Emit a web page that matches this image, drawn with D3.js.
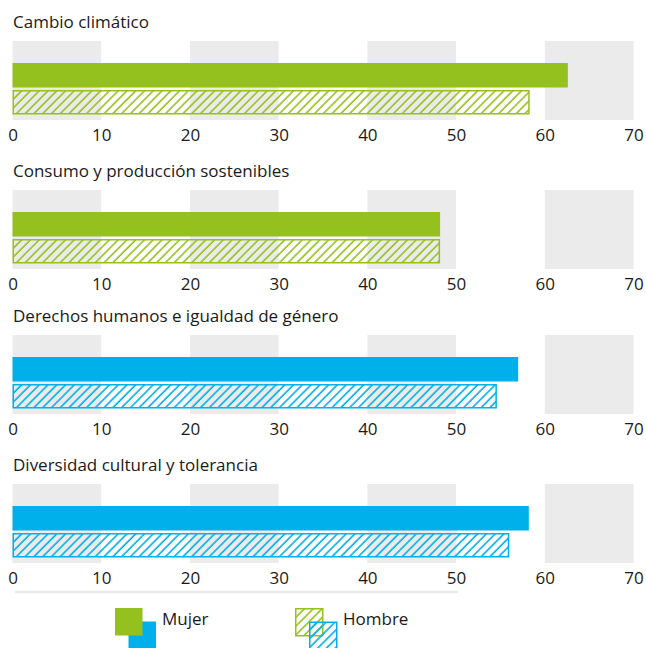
<!DOCTYPE html>
<html>
<head>
<meta charset="utf-8">
<script src="https://cdn.jsdelivr.net/npm/d3@7"></script>
<style>
  body { margin: 0; background: #fff; }
  svg text { font-family: "Open Sans", sans-serif; fill: #1a1a1a; }
</style>
</head>
<body>
<script>
// datos
const temas = ['Cambio climático', 'Consumo y producción sostenibles',
  'Derechos humanos e igualdad de género', 'Diversidad cultural y tolerancia']
const mujer = [62.6, 48.2, 57.0, 58.2]
const hombre = [58.3, 48.2, 54.6, 56.0]
const ticks = [0, 10, 20, 30, 40, 50, 60, 70]
const bandas = [[0, 10], [20, 30], [40, 50], [60, 70]]
const leyenda = ['Mujer', 'Hombre']

const w = 646
const h = 648
const verde = '#95c11f'
const azul = '#00b0ea'
const gris = '#ebebeb'
const panelY = [41, 190, 335, 484] // top of each grey band
const bandH = 79
const fs = 17

const svg = d3.select('body')
  .append('svg')
  .attr('width', w)
  .attr('height', h)

const defs = svg.append('defs')
const hatch = (id, color) => {
  const p = defs.append('pattern')
    .attr('id', id)
    .attr('patternUnits', 'userSpaceOnUse')
    .attr('width', 6.2)
    .attr('height', 6.2)
    .attr('patternTransform', 'rotate(45)')
  p.append('line')
    .attr('x1', 1).attr('y1', 0)
    .attr('x2', 1).attr('y2', 6.2)
    .attr('stroke', color)
    .attr('stroke-width', 1.6)
}
hatch('hv', verde)
hatch('ha', azul)

const xScale = d3.scaleLinear()
  .domain([0, 70])
  .range([12.5, 633.5])

temas.forEach((t, i) => {
  const g = svg.append('g').attr('transform', `translate(0,${panelY[i]})`)
  const color = i < 2 ? verde : azul

  g.selectAll('rect.banda')
    .data(bandas)
    .enter()
    .append('rect')
    .attr('class', 'banda')
    .attr('fill', gris)
    .attr('x', d => xScale(d[0]))
    .attr('width', d => xScale(d[1]) - xScale(d[0]))
    .attr('y', 0)
    .attr('height', bandH)

  g.append('text')
    .attr('x', 13)
    .attr('y', -13)
    .attr('font-size', fs)
    .text(t)

  // Mujer
  g.append('rect')
    .attr('fill', color)
    .attr('x', xScale(0))
    .attr('y', 22)
    .attr('width', xScale(mujer[i]) - xScale(0))
    .attr('height', 24.5)

  // Hombre
  g.append('rect')
    .attr('fill', `url(#${i < 2 ? 'hv' : 'ha'})`)
    .attr('stroke', color)
    .attr('stroke-width', 1.5)
    .attr('x', xScale(0) + 0.75)
    .attr('y', 49.75)
    .attr('width', xScale(hombre[i]) - xScale(0) - 1.5)
    .attr('height', 23)

  const axis = d3.axisBottom(xScale)
    .tickValues(ticks)
    .tickSize(0)
    .tickPadding(0)
  const ax = g.append('g')
    .attr('transform', `translate(0,${bandH + 7})`)
    .call(axis)
  ax.select('.domain').remove()
  ax.selectAll('text')
    .attr('font-size', fs)
    .attr('dy', '0.8em')
    .style('font-family', '"Open Sans", sans-serif')
    .attr('fill', '#1a1a1a')
})

// linea inferior
svg.append('line')
  .attr('x1', 15).attr('x2', 458)
  .attr('y1', 592).attr('y2', 592)
  .attr('stroke', gris)
  .attr('stroke-width', 2.5)

// leyenda
const lg = svg.append('g')
lg.append('rect').attr('x', 128.5).attr('y', 621.5).attr('width', 27.5).attr('height', 27.5).attr('fill', azul)
lg.append('rect').attr('x', 115).attr('y', 608).attr('width', 27.5).attr('height', 27.5).attr('fill', verde)
lg.append('text').attr('x', 162).attr('y', 625).attr('font-size', fs).text(leyenda[0])

lg.append('rect').attr('x', 295.75).attr('y', 608.75).attr('width', 27).attr('height', 27)
  .attr('fill', 'url(#hv)').attr('stroke', verde).attr('stroke-width', 1.5)
lg.append('rect').attr('x', 309.75).attr('y', 622.25).attr('width', 27).attr('height', 27)
  .attr('fill', 'url(#ha)').attr('stroke', azul).attr('stroke-width', 1.5)
lg.append('text').attr('x', 343).attr('y', 625).attr('font-size', fs).text(leyenda[1])
</script>
</body>
</html>
